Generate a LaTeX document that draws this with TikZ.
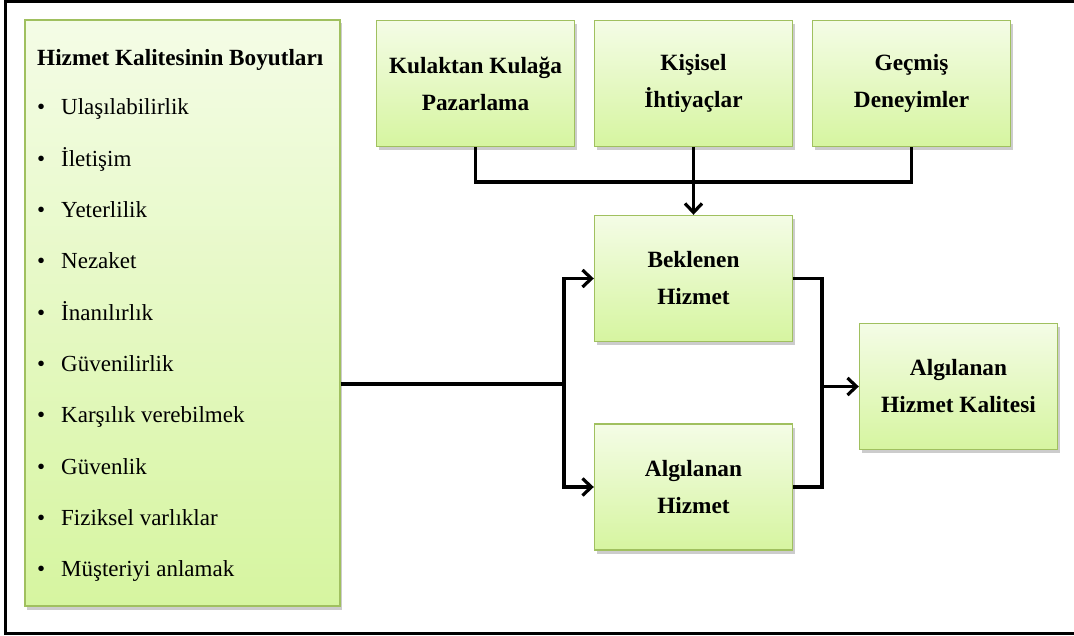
\documentclass[tikz,border=0pt]{standalone}
\usepackage{fontspec}
\setmainfont{Liberation Serif}
\usepackage{tikz}
\usetikzlibrary{arrows.meta,shadows,calc}

\definecolor{kutuust}{RGB}{244,252,230}
\definecolor{kutualt}{RGB}{214,245,160}
\definecolor{kutucizgi}{RGB}{160,192,95}

\tikzset{
  kutu/.style={draw=kutucizgi, line width=1.4pt, top color=kutuust, bottom color=kutualt,
    drop shadow={shadow xshift=2pt, shadow yshift=-3.5pt, opacity=0.4},
    minimum width=198pt, minimum height=126pt, inner sep=0pt, align=center,
    font=\fontsize{23.3}{37}\selectfont\bfseries},
  madde/.style={anchor=base west, inner sep=0pt, font=\fontsize{23}{26}\selectfont},
  cizgi/.style={line width=3.2pt},
  ok/.style={line width=3.2pt, -{Straight Barb[length=9pt,width=17pt]}},
}

\begin{document}
\begin{tikzpicture}[x=1pt, y=-1pt]
    \useasboundingbox (0,0) rectangle (1074,636);
    % Cerceve
    \draw[line width=3pt] (1080,2) -- (5,2) -- (5,633) -- (1080,633);
    % Boyutlar
    \node[kutu, minimum width=315pt, minimum height=586pt] (boyut) at (182.5,313) {};
    \node[madde, font=\fontsize{23.2}{26}\selectfont\bfseries] (baslik) at (37,66) {Hizmet Kalitesinin Boyutları};
    \foreach \m [count=\i from 0] in {Ulaşılabilirlik, İletişim, Yeterlilik, Nezaket, İnanılırlık,
        Güvenilirlik, Karşılık verebilmek, Güvenlik, Fiziksel varlıklar, Müşteriyi anlamak} {
      \node[madde] (m\i) at (37,{115+51.3*\i}) {\makebox[24pt][l]{\textbullet}\m};
    }
    % Ust kutular
    \node[kutu] (kulak) at (475.5,83.5) {Kulaktan Kulağa\\Pazarlama};
    \node[kutu] (kisisel) at (693.5,83.5) {Kişisel\\İhtiyaçlar};
    \node[kutu] (gecmis) at (911.5,83.5) {Geçmiş\\Deneyimler};
    % Orta
    \node[kutu] (beklenen) at (693.5,278.5) {Beklenen\\Hizmet};
    \node[kutu] (algilanan) at (693.5,487) {Algılanan\\Hizmet};
    \node[kutu] (kalite) at (958.5,386.5) {Algılanan\\Hizmet Kalitesi};
    % Baglantilar
    \coordinate (birles) at (693.5,182);
    \coordinate (sol) at (564,384);
    \coordinate (sag) at (822,386.5);
    \draw[cizgi] (kulak.south) |- (birles) -| (gecmis.south);
    \draw[ok] (kisisel.south) -- (beklenen.north);
    \draw[cizgi] (boyut.east |- sol) -- (sol);
    \draw[ok] (sol) |- (beklenen.west);
    \draw[ok] (sol) |- (algilanan.west);
    \draw[cizgi] (beklenen.east) -| (sag) |- (algilanan.east);
    \draw[ok] (sag) -- (kalite.west);
\end{tikzpicture}
\end{document}
